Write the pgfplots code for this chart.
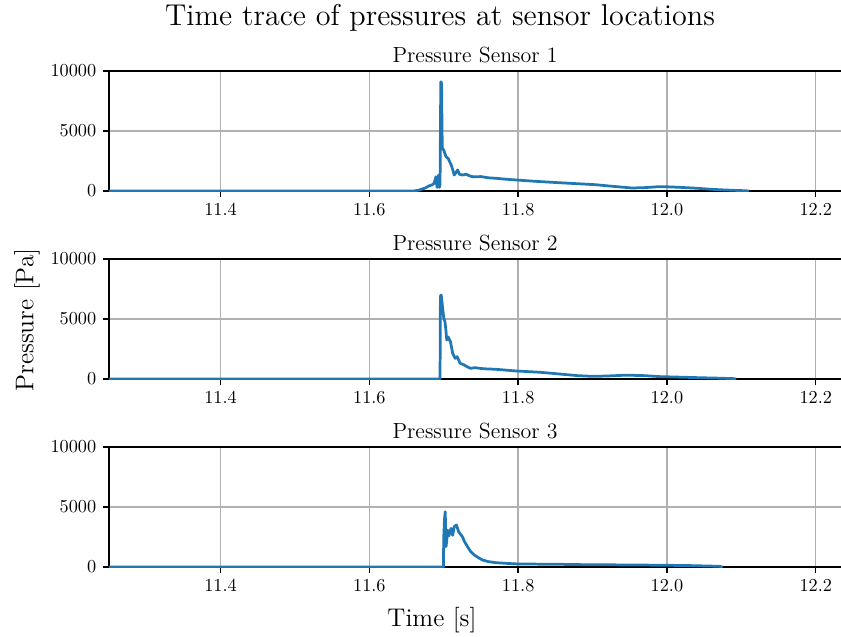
\documentclass[border=0pt]{standalone}
\usepackage{fontspec}
\newfontfamily\titlefont{lmroman12-regular.otf}
\usepackage{pgfplots}
\pgfplotsset{compat=1.18}
\definecolor{mplblue}{HTML}{1F77B4}
\definecolor{gridgray}{HTML}{B0B0B0}
\pgfplotsset{
  panel/.style={
    scale only axis,
    width=401.08pt, height=65.75pt,
    anchor=north west,
    xmin=11.25, xmax=12.234,
    ymin=0, ymax=10000,
    axis x line*=box, axis y line*=left,
    axis line style={line width=0.8pt, black},
    tick pos=left,
    tick align=outside,
    major tick length=3.5pt,
    every tick/.style={black, line width=0.8pt},
    xtick={11.4,11.6,11.8,12.0,12.2},
    ytick={0,5000,10000},
    xticklabel style={/pgf/number format/.cd, fixed, fixed zerofill, precision=1},
    yticklabel style={/pgf/number format/.cd, 1000 sep={}},
    scaled ticks=false,
    grid=major,
    major grid style={gridgray, line width=0.8pt},
    every axis plot post/.append style={mplblue, line width=1.5pt, line join=round, mark=none},
    clip=true,
  }
}
\begin{document}
\begin{tikzpicture}
\begin{axis}[panel, at={(59.72pt,-38.90pt)}]
\addplot coordinates {
(11.25,0) (11.66,0) (11.667,80) (11.675,250) (11.68,420) (11.684,500) (11.687,640)
(11.6895,1190) (11.691,300) (11.693,1330) (11.694,300) (11.695,500) (11.696,9100)
(11.697,9000) (11.698,3580) (11.700,3400) (11.703,2860) (11.706,2700) (11.71,2170)
(11.712,1800) (11.714,1330) (11.716,1500) (11.7186,1750) (11.721,1400) (11.725,1330)
(11.73,1400) (11.735,1250) (11.739,1190) (11.75,1200) (11.76,1100) (11.77,1060)
(11.78,1000) (11.797,920) (11.82,820) (11.855,690) (11.882,600) (11.905,520)
(11.922,420) (11.94,320) (11.953,250) (11.97,280) (11.989,360) (12.0,350)
(12.016,310) (12.04,230) (12.06,140) (12.08,80) (12.106,20) (12.11,0)
};
\end{axis}
\begin{axis}[panel, at={(59.72pt,-141.91pt)}]
\addplot coordinates {
(11.25,0) (11.695,0) (11.6955,6900) (11.6966,7000) (11.698,6200) (11.7,5060)
(11.7016,4780) (11.703,4000) (11.704,3250) (11.706,3500) (11.709,3110) (11.712,2140)
(11.7154,1720) (11.718,1860) (11.722,1310) (11.7275,1170) (11.732,1000) (11.736,890)
(11.742,950) (11.748,890) (11.755,850) (11.77,810) (11.797,670) (11.83,560)
(11.855,420) (11.88,280) (11.9,220) (11.92,250) (11.945,320) (11.97,280)
(11.99,200) (12.02,150) (12.043,110) (12.07,70) (12.09,30) (12.093,0)
};
\end{axis}
\begin{axis}[panel, at={(59.72pt,-244.92pt)}]
\addplot coordinates {
(11.25,0) (11.6995,0) (11.7,2500) (11.701,4000) (11.702,4610) (11.703,1700)
(11.704,2200) (11.705,3080) (11.707,2600) (11.7097,3220) (11.712,2640) (11.714,3360)
(11.717,3500) (11.72,2940) (11.725,2530) (11.728,2100) (11.732,1690) (11.736,1300)
(11.741,1000) (11.746,800) (11.752,580) (11.76,450) (11.77,360) (11.785,300)
(11.801,250) (11.85,230) (11.882,200) (11.95,170) (11.99,150) (12.03,120)
(12.07,60) (12.075,0)
};
\end{axis}
\node[font=\titlefont\fontsize{16.5}{19}\selectfont] at (241.1pt,-9.86pt) {Time trace of pressures at sensor locations};
\node[font=\fontsize{12}{14}\selectfont] at (260.3pt,-30.1pt) {Pressure Sensor 1};
\node[font=\fontsize{12}{14}\selectfont] at (260.3pt,-133.1pt) {Pressure Sensor 2};
\node[font=\fontsize{12}{14}\selectfont] at (260.3pt,-236.2pt) {Pressure Sensor 3};
\node[font=\fontsize{14}{17}\selectfont, rotate=90] at (14.8pt,-175.3pt) {Pressure [Pa]};
\node[font=\fontsize{14}{17}\selectfont] at (236.7pt,-339.7pt) {Time [s]};
\pgfresetboundingbox
\path (0pt,0pt) rectangle (460.8pt,-348.5pt);
\end{tikzpicture}
\end{document}
